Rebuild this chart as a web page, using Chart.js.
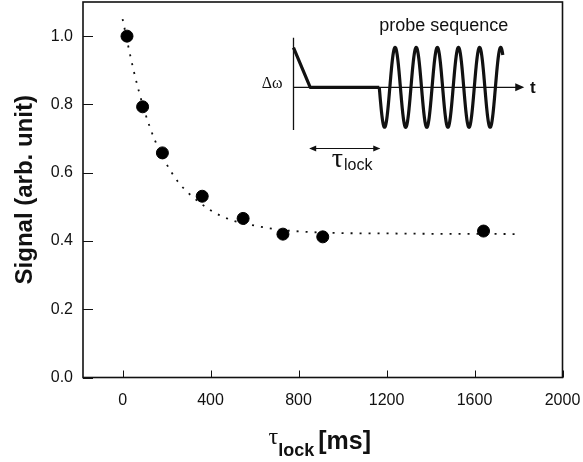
<!DOCTYPE html>
<html><head><meta charset="utf-8">
<script src="https://cdn.jsdelivr.net/npm/chart.js@4"></script>
<style>html,body{margin:0;padding:0;background:#fff}#wrap{width:583px;height:462px;position:relative}</style>
</head><body><div id="wrap"><canvas id="c"></canvas></div>
<script>
// ---- data ----
const lockTimes = [20, 91, 181, 362, 548, 729, 910, 1641];
const signalValues = [1.0, 0.793, 0.658, 0.531, 0.466, 0.42, 0.412, 0.429];
const fitTimes = [0, 50, 100, 150, 200, 250, 300, 400, 500, 600, 700, 800, 1000, 1200, 1400, 1600, 1800];
const fitValues = [1.05, 0.90, 0.78, 0.69, 0.625, 0.575, 0.54, 0.49, 0.46, 0.445, 0.434, 0.428, 0.423, 0.422, 0.421, 0.421, 0.42];
const xTickValues = [0, 400, 800, 1200, 1600, 2000];
const yTickValues = [0, 0.2, 0.4, 0.6, 0.8, 1.0];

// ---- inset schematic (data units) ----
const inset = {
  axisX: 777, axisTop: 0.995, axisBottom: 0.725, baseY: 0.85, arrowEnd: 1817,
  rampTop: 0.966, rampEnd: 853, flatEnd: 1167,
  wavePeriod: 96, waveAmp: 0.117, waveCycles: 5.85,
  lockArrowY: 0.671
};

const FONT = '"Liberation Sans", Arial, Helvetica, sans-serif';
const SERIF = '"Liberation Serif", "Times New Roman", serif';

const framePlugin = {
  id: 'frame',
  afterDatasetsDraw(chart) {
    const {ctx, chartArea: a, scales: {x, y}} = chart;
    ctx.save();
    ctx.strokeStyle = '#111';
    ctx.lineWidth = 1.6;
    ctx.strokeRect(a.left, a.top, a.right - a.left, a.bottom - a.top);
    ctx.lineWidth = 1;
    ctx.beginPath();
    xTickValues.forEach(v => { const px = Math.round(x.getPixelForValue(v)) + 0.5; ctx.moveTo(px, a.bottom); ctx.lineTo(px, a.bottom - 7); });
    yTickValues.forEach(v => { const py = Math.round(y.getPixelForValue(v)) + 0.5; ctx.moveTo(a.left, py); ctx.lineTo(a.left + 10, py); });
    ctx.stroke();

    // inset schematic
    const X = v => x.getPixelForValue(v), Y = v => y.getPixelForValue(v);
    ctx.strokeStyle = '#111'; ctx.fillStyle = '#111';
    ctx.lineWidth = 1.3;
    ctx.beginPath();
    ctx.moveTo(X(inset.axisX), Y(inset.axisTop)); ctx.lineTo(X(inset.axisX), Y(inset.axisBottom));
    ctx.moveTo(X(inset.axisX), Y(inset.baseY)); ctx.lineTo(X(inset.arrowEnd), Y(inset.baseY));
    ctx.stroke();
    const ax = X(inset.arrowEnd), ay = Y(inset.baseY);
    ctx.beginPath(); ctx.moveTo(ax + 2, ay); ctx.lineTo(ax - 7, ay - 4); ctx.lineTo(ax - 7, ay + 4); ctx.closePath(); ctx.fill();
    ctx.lineWidth = 3.2; ctx.lineJoin = 'round';
    ctx.beginPath();
    ctx.moveTo(X(inset.axisX), Y(inset.rampTop));
    ctx.lineTo(X(inset.rampEnd), Y(inset.baseY));
    ctx.lineTo(X(inset.flatEnd), Y(inset.baseY));
    ctx.stroke();
    ctx.beginPath();
    const steps = 600;
    for (let i = 0; i <= steps; i++) {
      const t = inset.waveCycles * i / steps;
      const px = X(inset.flatEnd + t * inset.wavePeriod);
      const py = Y(inset.baseY - inset.waveAmp * Math.sin(2 * Math.PI * t));
      if (i === 0) ctx.moveTo(px, py); else ctx.lineTo(px, py);
    }
    ctx.stroke();
    ctx.textBaseline = 'alphabetic';
    ctx.font = '18px ' + FONT; ctx.textAlign = 'center';
    ctx.fillText('probe sequence', X(1460), Y(1.032) + 6);
    ctx.font = 'bold 17px ' + FONT; ctx.textAlign = 'left';
    ctx.fillText('t', X(1825) + 6, Y(inset.baseY) + 6);
    ctx.font = '16px ' + SERIF; ctx.textAlign = 'right';
    ctx.fillText('Δω', X(inset.axisX) - 11, Y(inset.baseY) + 1);
    const ly = Y(inset.lockArrowY), l1 = X(inset.rampEnd), l2 = X(inset.flatEnd);
    ctx.lineWidth = 1.1;
    ctx.beginPath(); ctx.moveTo(l1, ly); ctx.lineTo(l2, ly); ctx.stroke();
    ctx.beginPath(); ctx.moveTo(l1 - 1, ly); ctx.lineTo(l1 + 6, ly - 3); ctx.lineTo(l1 + 6, ly + 3); ctx.closePath(); ctx.fill();
    ctx.beginPath(); ctx.moveTo(l2 + 1, ly); ctx.lineTo(l2 - 6, ly - 3); ctx.lineTo(l2 - 6, ly + 3); ctx.closePath(); ctx.fill();
    ctx.textAlign = 'left';
    ctx.font = '28px ' + SERIF;
    const tx = (l1 + l2) / 2 - 13;
    ctx.fillText('τ', tx, ly + 19);
    const tw = ctx.measureText('τ').width;
    ctx.font = '16px ' + FONT;
    ctx.fillText('lock', tx + tw + 1, ly + 22);

    // x axis title with subscript
    ctx.font = '24px ' + SERIF;
    const w1 = ctx.measureText('τ').width;
    ctx.font = 'bold 18px ' + FONT;
    const w2 = ctx.measureText('lock').width;
    ctx.font = 'bold 25px ' + FONT;
    const w3 = ctx.measureText('[ms]').width;
    const total = w1 + w2 + 4 + w3;
    let sx = (a.left + a.right) / 2 - 3 - total / 2;
    const base = a.bottom + 71;
    ctx.font = '24px ' + SERIF; ctx.fillText('τ', sx, base - 5); sx += w1;
    ctx.font = 'bold 18px ' + FONT; ctx.fillText('lock', sx, base + 7); sx += w2 + 4;
    ctx.font = 'bold 25px ' + FONT; ctx.fillText('[ms]', sx, base);
    ctx.restore();
  }
};

new Chart(document.getElementById('c'), {
  type: 'scatter',
  data: {
    datasets: [
      {
        type: 'line',
        data: fitTimes.map((t, i) => ({x: t, y: fitValues[i]})),
        borderColor: '#111', borderWidth: 1.8, borderDash: [2, 7],
        pointRadius: 0, fill: false, cubicInterpolationMode: 'monotone', order: 2
      },
      {
        data: lockTimes.map((t, i) => ({x: t, y: signalValues[i]})),
        backgroundColor: '#000', borderColor: '#000', pointRadius: 6, pointHoverRadius: 6, order: 1
      }
    ]
  },
  options: {
    responsive: true, maintainAspectRatio: false, animation: false,
    devicePixelRatio: 1,
    layout: {autoPadding: false, padding: {left: 0, right: 20.5, top: 2, bottom: 0}},
    plugins: {legend: {display: false}, tooltip: {enabled: false}},
    scales: {
      x: {
        type: 'linear', min: -180, max: 2000,
        afterBuildTicks: s => { s.ticks = xTickValues.map(v => ({value: v})); },
        afterFit: s => { s.height = 84.5; s.paddingLeft = 0; s.paddingRight = 0; },
        grid: {display: false, drawTicks: false},
        border: {display: false},
        ticks: {padding: 13, color: '#111', font: {family: FONT, size: 16}, maxRotation: 0, callback: v => String(v)}
      },
      y: {
        type: 'linear', min: 0, max: 1.1,
        afterBuildTicks: s => { s.ticks = yTickValues.map(v => ({value: v})); },
        afterFit: s => { s.width = 83; s.paddingTop = 0; s.paddingBottom = 0; },
        grid: {display: false, drawTicks: false},
        border: {display: false},
        ticks: {padding: 10, color: '#111', font: {family: FONT, size: 16}, callback: v => v.toFixed(1)},
        title: {display: true, text: 'Signal (arb. unit)', color: '#111', font: {family: FONT, size: 24, weight: 'bold'}, padding: {top: 11, bottom: 0}}
      }
    }
  },
  plugins: [framePlugin]
});
</script>
</body></html>
